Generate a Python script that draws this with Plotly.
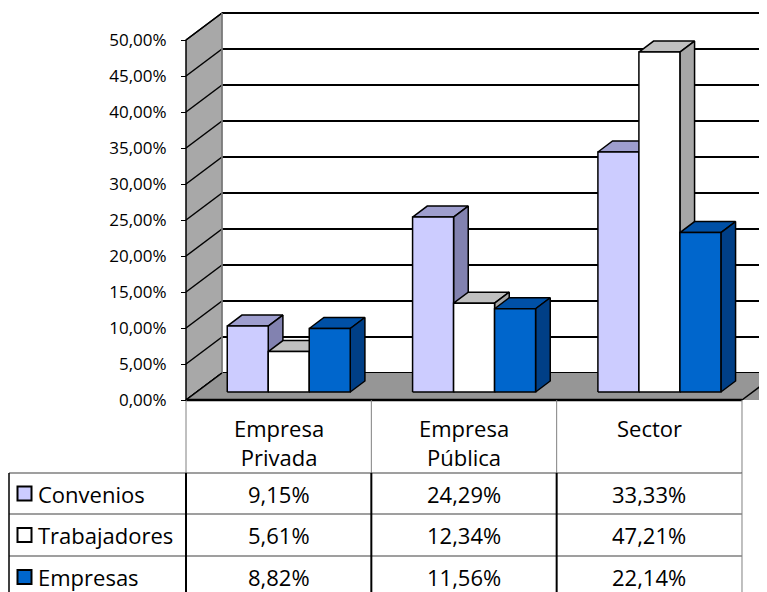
import plotly.graph_objects as go

# ---------------- data ----------------
categories = ["Empresa<br>Privada", "Empresa<br>Pública", "Sector"]
series_names = ["Convenios", "Trabajadores", "Empresas"]
convenios = [9.15, 24.29, 33.33]
trabajadores = [5.61, 12.34, 47.21]
empresas = [8.82, 11.56, 22.14]
y_ticks = [0, 5, 10, 15, 20, 25, 30, 35, 40, 45, 50]
y_tick_labels = [f"{v:.2f}%".replace(".", ",") for v in y_ticks]

series_values = [convenios, trabajadores, empresas]
front_colors = ["#CCCCFF", "#FFFFFF", "#0066CC"]
top_colors = ["#9E9ECE", "#C0C0C0", "#0050A6"]
side_colors = ["#8282B0", "#A6A6A6", "#003F86"]

# ---------------- geometry (scale of the drawing) ----------------
PAGE_OFF = 8             # default body margin of the html page
W, H = 767 - PAGE_OFF, 592 - PAGE_OFF
PX_X = 185.33            # px per category
PX_Y = 7.2               # px per percentage point
ORIGIN_PAGE = (186, 400) # page pixel of (x=0, y=0)
ORIGIN_PX = (ORIGIN_PAGE[0] - PAGE_OFF, ORIGIN_PAGE[1] - PAGE_OFF)
DX = 36 / PX_X           # depth vector in data units
DY = 27 / PX_Y
F0 = 8 / 27              # depth fraction where bars start
FD = 11 / 27             # bar depth fraction
BAR_W = 41 / PX_X
GROUP_OFF = 0.165
YMAX = max(y_ticks)

x_min = -ORIGIN_PX[0] / PX_X
x_max = (W - ORIGIN_PX[0]) / PX_X
y_max = ORIGIN_PX[1] / PX_Y
y_min = (ORIGIN_PX[1] - H) / PX_Y


def py2y(py):
    return (ORIGIN_PAGE[1] - py) / PX_Y


def px2x(px):
    return (px - ORIGIN_PAGE[0]) / PX_X


fig = go.Figure()


def poly(xs, ys, fill, line_color="black", lw=1.5):
    fig.add_trace(go.Scatter(
        x=list(xs) + [xs[0]], y=list(ys) + [ys[0]], mode="lines",
        fill="toself", fillcolor=fill,
        line=dict(color=line_color, width=lw),
        hoverinfo="skip", showlegend=False))


def seg(xs, ys, color="black", lw=2):
    fig.add_trace(go.Scatter(
        x=xs, y=ys, mode="lines", line=dict(color=color, width=lw),
        hoverinfo="skip", showlegend=False))


ncat = len(categories)

# back wall gridlines
for v in y_ticks:
    seg([DX, x_max + 1], [v + DY, v + DY], lw=2)

# side wall
poly([0, 0, DX, DX], [0, YMAX, YMAX + DY, DY], "#A8A8A8", lw=1.5)
for v in y_ticks:
    seg([0, DX], [v, v + DY], lw=1.5)
seg([DX, DX], [DY, YMAX + DY], color="#D0D0D0", lw=1)

# floor
fig.add_trace(go.Scatter(
    x=[0, DX, ncat + DX + 1, ncat + 1, 0], y=[0, DY, DY, 0, 0], mode="lines",
    fill="toself", fillcolor="#969696", line=dict(width=0),
    hoverinfo="skip", showlegend=False))
seg([ncat, ncat + DX], [0, DY], lw=1.5)
seg([0, DX], [0, DY], lw=1.5)

# bars
for i in range(ncat):
    for j, vals in enumerate(series_values):
        v = vals[i]
        x0 = i + GROUP_OFF + j * BAR_W + F0 * DX
        y0 = F0 * DY
        x1 = x0 + BAR_W
        ddx, ddy = FD * DX, FD * DY
        poly([x0, x1, x1 + ddx, x0 + ddx], [y0 + v, y0 + v, y0 + v + ddy, y0 + v + ddy],
             top_colors[j])
        poly([x1, x1, x1 + ddx, x1 + ddx], [y0, y0 + v, y0 + v + ddy, y0 + ddy],
             side_colors[j])
        poly([x0, x1, x1, x0], [y0, y0, y0 + v, y0 + v], front_colors[j])

# floor front edge
seg([0, ncat], [0, 0], lw=2.5)

# ---------------- data table ----------------
row_px = [473, 514, 556, 597]
row_y = [py2y(p) for p in row_px]
x_left = px2x(9)

# header vertical lines
for k in range(ncat + 1):
    seg([k, k], [0, row_y[0]], color="#808080", lw=1)
# horizontal lines
for ry in row_y:
    seg([x_left, ncat], [ry, ry], color="#404040", lw=1.2)
# data-row vertical lines
for xv in [x_left] + list(range(ncat)):
    seg([xv, xv], [row_y[0], row_y[-1]], color="black", lw=1.5 if xv == x_left else 2)
seg([ncat, ncat], [row_y[0], row_y[-1]], color="#808080", lw=1)

annotations = []
FONT = "Open Sans, Noto Sans, DejaVu Sans, sans-serif"
TFS = 22
for i, c in enumerate(categories):
    annotations.append(dict(
        x=i + 0.5, y=py2y(411), xref="x", yref="y", text=c, showarrow=False,
        xanchor="center", yanchor="top", align="center",
        font=dict(family=FONT, size=TFS, color="black")))

for j, (name, vals) in enumerate(zip(series_names, series_values)):
    cy = (row_y[j] + row_y[j + 1]) / 2
    if j == len(series_names) - 1:
        cy = py2y(577)
    fig.add_trace(go.Scatter(
        x=[px2x(24.5)], y=[cy], mode="markers",
        marker=dict(symbol="square", size=14, color=front_colors[j],
                    line=dict(color="black", width=2)),
        hoverinfo="skip", showlegend=False))
    annotations.append(dict(
        x=px2x(36), y=cy, xref="x", yref="y", text=name, showarrow=False,
        xanchor="left", yanchor="middle",
        font=dict(family=FONT, size=TFS, color="black")))
    for i, v in enumerate(vals):
        annotations.append(dict(
            x=i + 0.5, y=cy, xref="x", yref="y",
            text=f"{v:.2f}%".replace(".", ","), showarrow=False,
            xanchor="center", yanchor="middle",
            font=dict(family=FONT, size=TFS, color="black")))

fig.update_layout(
    width=W, height=H,
    margin=dict(l=0, r=0, t=0, b=0),
    paper_bgcolor="white", plot_bgcolor="white",
    annotations=annotations,
    xaxis=dict(range=[x_min, x_max], visible=False, fixedrange=True),
    yaxis=dict(range=[y_min, y_max], anchor="free",
               position=ORIGIN_PX[0] / W,
               tickvals=y_ticks, ticktext=y_tick_labels,
               ticks="outside", ticklen=5, tickcolor="black", tickwidth=1,
               ticklabelstandoff=11,
               showgrid=False, zeroline=False, showline=False,
               tickfont=dict(family=FONT, size=17, color="black"),
               fixedrange=True),
)

fig.write_html("out.html")
